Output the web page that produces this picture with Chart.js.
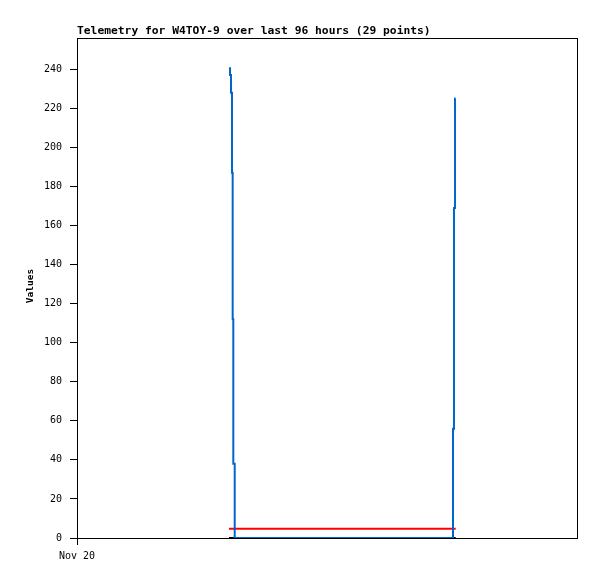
<!DOCTYPE html>
<html>
<head>
<meta charset="utf-8">
<script src="https://cdn.jsdelivr.net/npm/chart.js@4.4.1/dist/chart.umd.min.js"></script>
<style>
  html, body { margin: 0; padding: 0; background: #fff; }
  #wrap { width: 597px; height: 579px; }
</style>
</head>
<body>
<div id="wrap"><canvas id="telemetry" width="597" height="579"></canvas></div>
<script>
// hours since Nov 20 00:00
const blueHours  = [29.38, 29.57, 29.76, 29.89, 30.01, 30.28, 30.34, 72.19, 72.38, 72.58, 72.67];
const blueValues = [241, 237, 228, 187, 112, 38, 0, 0, 56, 169, 225];

const redHours  = [29.18, 72.71];
const redValues = [4.7, 4.7];

const blackHours  = [29.18, 72.71];
const blackValues = [0, 0];

const yTicks = [0, 20, 40, 60, 80, 100, 120, 140, 160, 180, 200, 220, 240];
const xTicks = [0];
const xTickLabels = ['Nov 20'];

const titleText = 'Telemetry for W4TOY-9 over last 96 hours (29 points)';
const yTitle = 'Values';

function pts(xs, ys) {
  return xs.map((x, i) => ({ x: x, y: ys[i] }));
}

// frame + title + y axis title
const framePlugin = {
  id: 'frame',
  afterDraw(chart) {
    const ctx = chart.ctx;
    const a = chart.chartArea;
    ctx.save();
    ctx.strokeStyle = '#000';
    ctx.lineWidth = 1;
    ctx.strokeRect(Math.round(a.left) + 0.5, Math.round(a.top) + 0.5,
      Math.round(a.right - a.left), Math.round(a.bottom - a.top));

    ctx.fillStyle = '#000';
    ctx.font = 'bold 11.3px "DejaVu Sans Mono"';
    ctx.textAlign = 'left';
    ctx.textBaseline = 'alphabetic';
    ctx.fillText(titleText, a.left, 34);

    ctx.translate(31, 286);
    ctx.rotate(-Math.PI / 2);
    ctx.font = 'bold 9.5px "DejaVu Sans Mono"';
    ctx.textAlign = 'center';
    ctx.textBaseline = 'middle';
    ctx.fillText(yTitle, 0, 0);
    ctx.restore();
  }
};

new Chart(document.getElementById('telemetry'), {
  type: 'line',
  data: {
    datasets: [
      { data: pts(blueHours, blueValues), borderColor: '#0066cc', borderWidth: 2, stepped: 'after', clip: false },
      { data: pts(redHours, redValues), borderColor: '#ff0000', borderWidth: 2, clip: false },
      { data: pts(blackHours, blackValues), borderColor: '#000000', borderWidth: 2, clip: false }
    ]
  },
  options: {
    responsive: false,
    animation: false,
    events: [],
    layout: { padding: { left: 0, right: 20, top: 38, bottom: 0 } },
    elements: { point: { radius: 0 }, line: { tension: 0 } },
    plugins: { legend: { display: false }, title: { display: false }, tooltip: { enabled: false } },
    scales: {
      x: {
        type: 'linear',
        min: 0,
        max: 96,
        border: { display: false },
        grid: { drawOnChartArea: false, drawTicks: true, tickLength: 7, color: '#000' },
        ticks: {
          color: '#000',
          font: { family: 'DejaVu Sans Mono', size: 10 },
          padding: 5,
          maxRotation: 0,
          callback: (v) => {
            const i = xTicks.indexOf(v);
            return i >= 0 ? xTickLabels[i] : '';
          }
        },
        afterBuildTicks: (s) => { s.ticks = xTicks.map(v => ({ value: v })); },
        afterFit: (s) => { s.height = 41; }
      },
      y: {
        min: 0,
        max: 256,
        border: { display: false },
        grid: { drawOnChartArea: false, drawTicks: true, tickLength: 7, color: '#000' },
        ticks: {
          color: '#000',
          font: { family: 'DejaVu Sans Mono', size: 10 },
          padding: 8
        },
        afterBuildTicks: (s) => { s.ticks = yTicks.map(v => ({ value: v })); },
        afterFit: (s) => { s.width = 77; }
      }
    }
  },
  plugins: [framePlugin]
});
</script>
</body>
</html>
